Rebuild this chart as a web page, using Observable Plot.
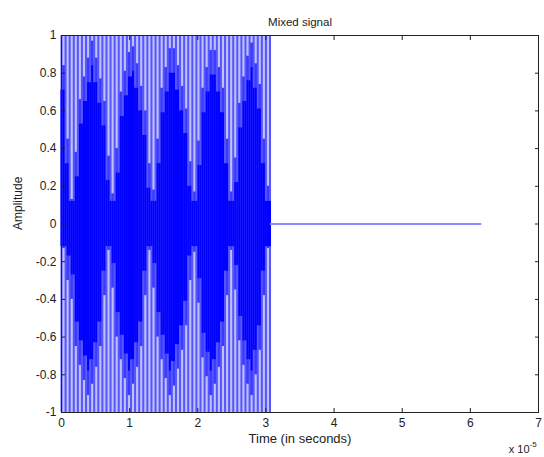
<!DOCTYPE html>
<html><head><meta charset="utf-8">
<script src="https://cdn.jsdelivr.net/npm/d3@7"></script>
<script src="https://cdn.jsdelivr.net/npm/@observablehq/plot@0.6"></script>
<style>body{margin:0;background:#fff;}#chart{width:544px;height:457px;}</style>
</head><body><div id="chart"></div>
<script>
// ---- chart texts and ticks ----
const title = "Mixed signal";
const xLabel = "Time (in seconds)";
const yLabel = "Amplitude";
const xTicks = [0, 1, 2, 3, 4, 5, 6, 7];
const yTicks = [-1, -0.8, -0.6, -0.4, -0.2, 0, 0.2, 0.4, 0.6, 0.8, 1];
const exponentBase = "x 10";
const exponentPower = "-5";

// ---- signal (time in units of 1e-5 s) ----
const sampleStep = 0.06;        // spacing of the visible oscillation strokes
const peakAmplitude = 1;        // every stroke swings to +/-1
// upper half: level where the light gaps between strokes end
const upperLight = [0.84,0.45,0.13,0.38,0.66,0.78,0.88,0.97,0.88,0.77,0.65,0.36,0.16,0.40,0.70,0.81,0.91,0.94,0.85,0.73,
  0.60,0.32,0.18,0.45,0.72,0.83,0.93,0.93,0.84,0.73,0.61,0.33,0.17,0.44,0.72,0.83,0.92,0.92,0.83,0.72,
  0.45,0.17,0.35,0.64,0.78,0.89,0.96,0.85,0.74,0.45,0.20];
// upper half: top of the solid dense core
const upperCore = [0.71,0.32,0.12,0.25,0.53,0.65,0.75,0.84,0.75,0.64,0.52,0.23,0.12,0.27,0.57,0.68,0.78,0.81,0.72,0.60,
  0.47,0.19,0.12,0.32,0.59,0.70,0.80,0.80,0.71,0.60,0.48,0.20,0.12,0.31,0.59,0.70,0.79,0.79,0.70,0.59,
  0.32,0.12,0.22,0.51,0.65,0.76,0.83,0.72,0.61,0.32,0.12];
// lower half (magnitudes below zero)
const lowerLight = [0.13,0.30,0.40,0.65,0.75,0.83,0.91,0.85,0.76,0.65,0.38,0.14,0.34,0.60,0.72,0.82,0.91,0.85,0.76,0.65,
  0.38,0.14,0.34,0.60,0.72,0.82,0.91,0.86,0.77,0.67,0.54,0.30,0.15,0.42,0.71,0.81,0.91,0.85,0.76,0.65,
  0.38,0.14,0.35,0.62,0.75,0.85,0.91,0.80,0.67,0.38,0.13];
const lowerCore = [0.12,0.17,0.27,0.52,0.62,0.70,0.78,0.72,0.63,0.52,0.25,0.12,0.21,0.47,0.59,0.69,0.78,0.72,0.63,0.52,
  0.25,0.12,0.21,0.47,0.59,0.69,0.78,0.73,0.64,0.54,0.41,0.17,0.12,0.29,0.58,0.68,0.78,0.72,0.63,0.52,
  0.25,0.12,0.22,0.49,0.62,0.72,0.78,0.67,0.54,0.25,0.12];
const signalStart = 0;
const signalEnd = 3.07;
const tailEnd = 6.15;
const tailLevel = 0;

// ---- derived tables ----
const gaps = upperLight.map((u, i) => ({
  x1: i * sampleStep, x2: (i + 1) * sampleStep,
  up: u, upCore: upperCore[i], lo: -lowerLight[i], loCore: -lowerCore[i]
}));
const strokes = d3.range(gaps.length + 1).map(i => {
  const near = [gaps[i - 1], gaps[i]].filter(Boolean);
  return {t: i * sampleStep, coreUp: d3.min(near, g => g.upCore), coreLo: d3.max(near, g => g.loCore)};
});
const band = [{x1: signalStart, x2: signalEnd, y1: -peakAmplitude, y2: peakAmplitude}];
const tail = [{t: signalEnd, v: tailLevel}, {t: tailEnd, v: tailLevel}];

const fmt = d => String(Math.round(d * 10) / 10);
const font = "'Liberation Sans', Arial, sans-serif";

const chart = Plot.plot({
  width: 544,
  height: 457,
  marginLeft: 61,
  marginRight: 6,
  marginTop: 35,
  marginBottom: 45,
  style: {fontFamily: font, fontSize: "12px", color: "#222", background: "#fff"},
  x: {domain: [0, 7]},
  y: {domain: [-1, 1]},
  marks: [
    Plot.rect(band, {x1: "x1", x2: "x2", y1: "y1", y2: "y2", fill: "#c0c0fb"}),
    Plot.rect(gaps, {x1: "x1", x2: "x2", y1: "lo", y2: "up", fill: "#3a3aff"}),
    Plot.rect(gaps, {x1: "x1", x2: "x2", y1: "loCore", y2: "upCore", fill: "#0000ff"}),
    Plot.ruleX(strokes, {x: "t", y1: -peakAmplitude, y2: peakAmplitude, stroke: "#5656ff", strokeWidth: 2}),
    Plot.ruleX(strokes, {x: "t", y1: "coreLo", y2: "coreUp", stroke: "#0000ff", strokeWidth: 2}),
    Plot.line(tail, {x: "t", y: "v", stroke: "#8c8cff", strokeWidth: 2}),
    Plot.axisX({anchor: "bottom", ticks: xTicks, tickSize: -4, tickPadding: 10, tickFormat: fmt, label: null, fontSize: 12}),
    Plot.axisX({anchor: "top", ticks: xTicks, tickSize: -4, tickFormat: () => "", label: null}),
    Plot.axisY({anchor: "left", ticks: yTicks, tickSize: -4, tickPadding: 9, tickFormat: fmt, label: null, fontSize: 12}),
    Plot.axisY({anchor: "right", ticks: yTicks, tickSize: -4, tickFormat: () => "", label: null}),
    Plot.frame({stroke: "#222"}),
    Plot.text([title], {frameAnchor: "top", dy: -18, fontSize: 11.5, fill: "#222"}),
    Plot.text([yLabel], {frameAnchor: "left", rotate: -90, dx: -43, dy: 6, fontSize: 12, fill: "#222"}),
    Plot.text([xLabel], {frameAnchor: "bottom", dy: 30, fontSize: 13, fill: "#222"}),
    Plot.text([exponentBase], {frameAnchor: "bottom-right", textAnchor: "end", dx: -9, dy: 40, fontSize: 11, fill: "#222"}),
    Plot.text([exponentPower], {frameAnchor: "bottom-right", textAnchor: "start", dx: -9, dy: 34, fontSize: 8, fill: "#222"})
  ]
});
document.getElementById("chart").appendChild(chart);
</script>
</body></html>
